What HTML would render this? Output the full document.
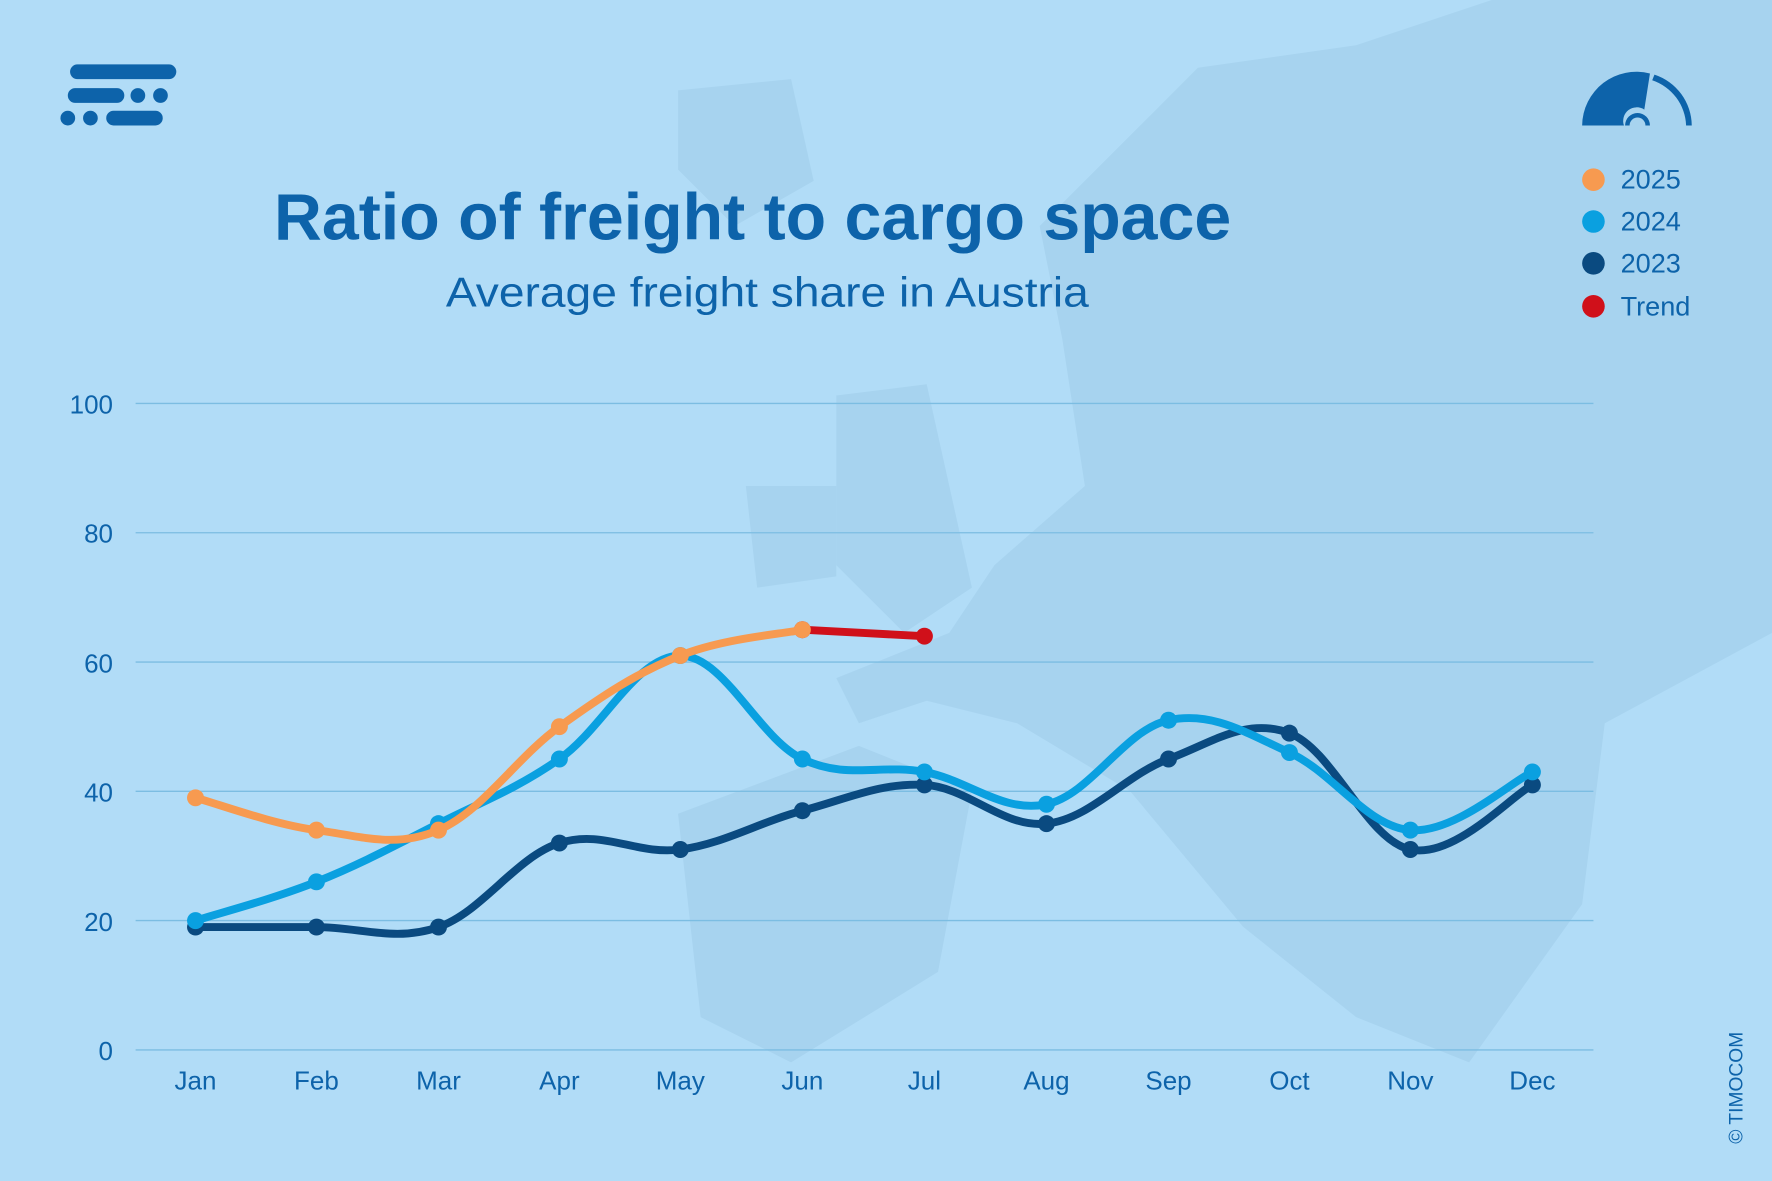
<!DOCTYPE html>
<html><head><meta charset="utf-8"><style>
html,body{margin:0;padding:0;background:#b1dcf7;}
svg{display:block}
text{font-family:"Liberation Sans","DejaVu Sans",sans-serif;fill:#0d63aa}
</style></head><body>
<svg id="s" width="1772" height="1181" viewBox="0 0 1568 1045" preserveAspectRatio="none">
<rect width="1568" height="1045" fill="#b1dcf7"/>
<g fill="#a7d3ef">
<path d="M600 80 L700 70 L720 160 L650 200 L600 150Z"/>
<path d="M740 350 L820 340 L860 520 L800 560 L740 500Z"/>
<path d="M660 430 L740 430 L740 510 L670 520Z"/>
<path d="M920 200 L1060 60 L1200 40 L1320 0 L1568 0 L1568 560 L1420 640 L1400 800 L1300 940 L1200 900 L1100 820 L1000 700 L900 640 L820 620 L760 640 L740 600 L840 560 L880 500 L960 430 L940 300Z"/>
<path d="M600 720 L760 660 L860 700 L830 860 L700 940 L620 900Z"/>
</g>
<g stroke="#7cbde2" stroke-width="1.2">
<line x1="120" x2="1410" y1="357" y2="357"/>
<line x1="120" x2="1410" y1="471.4" y2="471.4"/>
<line x1="120" x2="1410" y1="585.8" y2="585.8"/>
<line x1="120" x2="1410" y1="700.2" y2="700.2"/>
<line x1="120" x2="1410" y1="814.6" y2="814.6"/>
<line x1="120" x2="1410" y1="929" y2="929"/>
</g>
<g font-size="23" text-anchor="end">
<text x="100" y="366">100</text><text x="100" y="480">80</text><text x="100" y="595">60</text>
<text x="100" y="709">40</text><text x="100" y="824">20</text><text x="100" y="938">0</text>
</g>
<g font-size="23" text-anchor="middle" id="xl"></g>
<g id="lines" fill="none" stroke-linecap="round" stroke-width="7"></g>
<text x="666" y="212" font-size="58" font-weight="bold" text-anchor="middle" textLength="847" lengthAdjust="spacingAndGlyphs">Ratio of freight to cargo space</text>
<text x="679" y="271" font-size="37" text-anchor="middle" textLength="569" lengthAdjust="spacingAndGlyphs">Average freight share in Austria</text>
<g fill="#0d63aa">
<rect x="62" y="57" width="94" height="13" rx="6.5"/>
<rect x="60" y="78" width="50" height="13" rx="6.5"/>
<circle cx="122" cy="84.5" r="6.5"/><circle cx="142" cy="84.5" r="6.5"/>
<circle cx="60" cy="104.5" r="6.5"/><circle cx="80" cy="104.5" r="6.5"/>
<rect x="94" y="98" width="50" height="13" rx="6.5"/>
<path d="M1400 111 A48 48 0 0 1 1460 65 L1455 97 A12 12 0 0 0 1437 111Z"/>
<path d="M1464 66 A48 48 0 0 1 1497 111 L1492 111 A44 44 0 0 0 1462 71Z"/>
<path d="M1438 111 A11 11 0 0 1 1460 111 L1456 111 A7 7 0 0 0 1442 111Z"/>
</g>
<g font-size="24">
<circle cx="1410" cy="159" r="10" fill="#f79a50"/><text x="1434" y="167">2025</text>
<circle cx="1410" cy="196" r="10" fill="#0aa0e0"/><text x="1434" y="204">2024</text>
<circle cx="1410" cy="233" r="10" fill="#0a4a80"/><text x="1434" y="241">2023</text>
<circle cx="1410" cy="271" r="10" fill="#d0101a"/><text x="1434" y="279">Trend</text>
</g>
<text transform="translate(1542,1012) rotate(-90)" font-size="17">© TIMOCOM</text>
</svg>
<script>
var X=[173,280,388,495,602,710,818,926,1034,1141,1248,1356];
var M=["Jan","Feb","Mar","Apr","May","Jun","Jul","Aug","Sep","Oct","Nov","Dec"];
var ns="http://www.w3.org/2000/svg";
var xl=document.getElementById("xl");
M.forEach(function(m,i){var t=document.createElementNS(ns,"text");t.setAttribute("x",X[i]);t.setAttribute("y",964);t.textContent=m;xl.appendChild(t);});
function Y(v){return 929-5.72*v;}
function path(pts){var d="M"+pts[0][0]+" "+pts[0][1];for(var i=0;i<pts.length-1;i++){var p0=pts[i-1]||pts[i],p1=pts[i],p2=pts[i+1],p3=pts[i+2]||p2;var t=0.18;
d+=" C"+(p1[0]+(p2[0]-p0[0])*t)+" "+(p1[1]+(p2[1]-p0[1])*t)+" "+(p2[0]-(p3[0]-p1[0])*t)+" "+(p2[1]-(p3[1]-p1[1])*t)+" "+p2[0]+" "+p2[1];}return d;}
var g=document.getElementById("lines");
function series(vals,col,start){var pts=vals.map(function(v,i){return [X[i+start],Y(v)];});
var p=document.createElementNS(ns,"path");p.setAttribute("d",path(pts));p.setAttribute("stroke",col);g.appendChild(p);
pts.forEach(function(q){var c=document.createElementNS(ns,"circle");c.setAttribute("cx",q[0]);c.setAttribute("cy",q[1]);c.setAttribute("r",7.5);c.setAttribute("fill",col);c.setAttribute("stroke","none");g.appendChild(c);});}
series([19,19,19,32,31,37,41,35,45,49,31,41],"#0a4a80",0);
series([20,26,35,45,61,45,43,38,51,46,34,43],"#0aa0e0",0);
series([65,64],"#d0101a",5);
series([39,34,34,50,61,65],"#f79a50",0);
</script>
</body></html>
